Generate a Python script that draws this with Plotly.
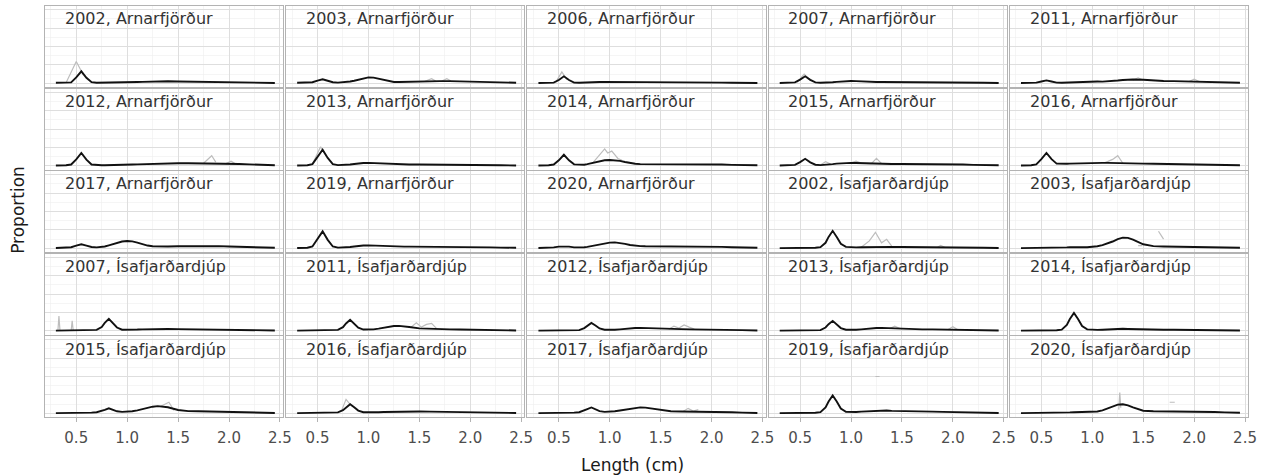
import plotly.graph_objects as go

# ---------------- data ----------------
LENGTH = [0.30, 0.35, 0.40, 0.45, 0.50, 0.55, 0.60, 0.65, 0.70, 0.75, 0.78, 0.82, 0.86, 0.90,
          0.95, 1.00, 1.05, 1.10, 1.15, 1.20, 1.25, 1.30, 1.35, 1.40, 1.50, 1.60, 1.70, 1.80,
          1.90, 2.00, 2.10, 2.20, 2.30, 2.45]

X_TICKS = [0.5, 1.0, 1.5, 2.0, 2.5]
X_TICK_LABELS = ["0.5", "1.0", "1.5", "2.0", "2.5"]

PANEL_TITLES = [
    "2002, Arnarfjörður", "2003, Arnarfjörður", "2006, Arnarfjörður", "2007, Arnarfjörður", "2011, Arnarfjörður",
    "2012, Arnarfjörður", "2013, Arnarfjörður", "2014, Arnarfjörður", "2015, Arnarfjörður", "2016, Arnarfjörður",
    "2017, Arnarfjörður", "2019, Arnarfjörður", "2020, Arnarfjörður", "2002, Ísafjarðardjúp", "2003, Ísafjarðardjúp",
    "2007, Ísafjarðardjúp", "2011, Ísafjarðardjúp", "2012, Ísafjarðardjúp", "2013, Ísafjarðardjúp", "2014, Ísafjarðardjúp",
    "2015, Ísafjarðardjúp", "2016, Ísafjarðardjúp", "2017, Ísafjarðardjúp", "2019, Ísafjarðardjúp", "2020, Ísafjarðardjúp",
]

# fitted proportions (black lines), one list per panel, on LENGTH
fit_a2002 = [0.003,0.003,0.003,0.005,0.032,0.065,0.030,0.006,0.003,0.003,0.003,0.003,0.004,0.004,0.005,0.005,0.006,0.007,0.008,0.009,0.010,0.011,0.011,0.011,0.010,0.009,0.008,0.007,0.006,0.005,0.004,0.003,0.003,0.002]
fit_a2003 = [0.003,0.003,0.003,0.006,0.015,0.022,0.014,0.006,0.004,0.005,0.007,0.010,0.014,0.020,0.027,0.032,0.031,0.025,0.017,0.010,0.007,0.007,0.008,0.009,0.011,0.012,0.012,0.012,0.011,0.009,0.007,0.005,0.004,0.003]
fit_a2006 = [0.002,0.002,0.002,0.004,0.018,0.038,0.018,0.004,0.003,0.003,0.004,0.005,0.006,0.007,0.008,0.008,0.008,0.007,0.006,0.006,0.006,0.006,0.006,0.006,0.006,0.006,0.005,0.005,0.005,0.004,0.004,0.003,0.003,0.002]
fit_a2007 = [0.002,0.002,0.002,0.005,0.020,0.038,0.019,0.005,0.003,0.003,0.004,0.006,0.008,0.010,0.012,0.013,0.012,0.010,0.008,0.007,0.007,0.007,0.007,0.007,0.007,0.007,0.007,0.006,0.006,0.005,0.004,0.004,0.003,0.002]
fit_a2011 = [0.002,0.002,0.002,0.004,0.010,0.016,0.010,0.004,0.003,0.004,0.005,0.007,0.009,0.010,0.011,0.011,0.010,0.009,0.010,0.012,0.015,0.018,0.020,0.021,0.019,0.015,0.013,0.012,0.011,0.010,0.008,0.006,0.004,0.003]
fit_a2012 = [0.002,0.002,0.003,0.007,0.035,0.070,0.034,0.007,0.003,0.003,0.003,0.003,0.004,0.004,0.005,0.006,0.007,0.008,0.009,0.010,0.011,0.012,0.013,0.013,0.014,0.014,0.014,0.014,0.013,0.012,0.010,0.008,0.005,0.003]
fit_a2013 = [0.002,0.002,0.003,0.009,0.045,0.087,0.043,0.009,0.004,0.004,0.005,0.007,0.010,0.013,0.015,0.016,0.015,0.013,0.010,0.008,0.007,0.007,0.007,0.007,0.007,0.007,0.007,0.007,0.006,0.006,0.005,0.004,0.003,0.002]
fit_a2014 = [0.002,0.002,0.003,0.007,0.030,0.060,0.030,0.008,0.005,0.006,0.009,0.014,0.020,0.026,0.030,0.032,0.031,0.027,0.021,0.015,0.011,0.009,0.009,0.009,0.008,0.008,0.009,0.010,0.010,0.009,0.007,0.005,0.004,0.003]
fit_a2015 = [0.002,0.002,0.003,0.005,0.020,0.038,0.019,0.006,0.004,0.005,0.007,0.009,0.012,0.014,0.016,0.016,0.015,0.014,0.012,0.011,0.010,0.010,0.010,0.010,0.010,0.010,0.010,0.009,0.009,0.008,0.007,0.005,0.004,0.003]
fit_a2016 = [0.002,0.002,0.003,0.008,0.036,0.070,0.036,0.012,0.010,0.011,0.012,0.013,0.014,0.015,0.015,0.016,0.016,0.016,0.016,0.016,0.015,0.015,0.014,0.013,0.012,0.011,0.010,0.009,0.008,0.007,0.006,0.005,0.004,0.003]
fit_a2017 = [0.002,0.002,0.003,0.006,0.015,0.022,0.015,0.007,0.005,0.007,0.010,0.016,0.023,0.030,0.037,0.040,0.038,0.031,0.022,0.015,0.011,0.010,0.010,0.010,0.011,0.012,0.013,0.013,0.012,0.010,0.008,0.006,0.004,0.003]
fit_a2019 = [0.002,0.002,0.003,0.010,0.048,0.092,0.046,0.010,0.004,0.004,0.005,0.007,0.010,0.013,0.015,0.016,0.015,0.013,0.011,0.009,0.009,0.009,0.009,0.009,0.009,0.009,0.009,0.009,0.008,0.008,0.007,0.005,0.004,0.003]
fit_a2020 = [0.002,0.002,0.003,0.005,0.009,0.011,0.009,0.005,0.004,0.006,0.008,0.012,0.017,0.023,0.028,0.031,0.032,0.029,0.024,0.018,0.014,0.012,0.011,0.011,0.011,0.012,0.012,0.012,0.011,0.010,0.008,0.006,0.004,0.003]
fit_i2002 = [0.001,0.001,0.001,0.001,0.001,0.002,0.002,0.003,0.006,0.030,0.062,0.095,0.062,0.025,0.008,0.005,0.005,0.006,0.007,0.008,0.008,0.008,0.008,0.008,0.007,0.007,0.006,0.006,0.005,0.005,0.004,0.004,0.003,0.002]
fit_i2003 = [0.001,0.001,0.001,0.002,0.002,0.002,0.003,0.003,0.004,0.005,0.006,0.007,0.006,0.006,0.006,0.008,0.011,0.017,0.026,0.037,0.050,0.058,0.057,0.047,0.022,0.012,0.010,0.009,0.009,0.008,0.007,0.006,0.005,0.003]
fit_i2007 = [0.001,0.001,0.001,0.001,0.002,0.002,0.002,0.003,0.005,0.021,0.043,0.065,0.043,0.018,0.006,0.005,0.006,0.007,0.008,0.009,0.010,0.011,0.011,0.010,0.009,0.008,0.007,0.007,0.006,0.005,0.005,0.004,0.003,0.002]
fit_i2011 = [0.001,0.001,0.001,0.001,0.002,0.002,0.002,0.003,0.005,0.020,0.040,0.060,0.040,0.017,0.007,0.006,0.008,0.012,0.017,0.022,0.026,0.027,0.025,0.021,0.013,0.010,0.009,0.008,0.007,0.006,0.005,0.004,0.003,0.002]
fit_i2012 = [0.001,0.001,0.001,0.001,0.002,0.002,0.002,0.003,0.004,0.015,0.029,0.043,0.029,0.013,0.006,0.005,0.006,0.008,0.011,0.013,0.015,0.016,0.015,0.013,0.010,0.009,0.009,0.008,0.008,0.007,0.006,0.005,0.004,0.002]
fit_i2013 = [0.001,0.001,0.001,0.001,0.002,0.002,0.002,0.003,0.004,0.018,0.036,0.054,0.036,0.015,0.006,0.005,0.006,0.008,0.011,0.013,0.015,0.016,0.015,0.013,0.010,0.009,0.008,0.008,0.007,0.007,0.006,0.005,0.004,0.002]
fit_i2014 = [0.001,0.001,0.001,0.001,0.002,0.002,0.002,0.003,0.006,0.032,0.064,0.097,0.064,0.026,0.008,0.005,0.005,0.006,0.008,0.009,0.010,0.011,0.010,0.009,0.008,0.007,0.006,0.006,0.005,0.005,0.004,0.003,0.003,0.002]
fit_i2015 = [0.001,0.001,0.002,0.002,0.003,0.003,0.003,0.004,0.006,0.012,0.019,0.027,0.019,0.011,0.008,0.008,0.011,0.016,0.023,0.030,0.036,0.039,0.038,0.033,0.018,0.012,0.011,0.010,0.010,0.009,0.008,0.006,0.004,0.002]
fit_i2016 = [0.001,0.001,0.001,0.001,0.002,0.002,0.002,0.003,0.005,0.017,0.033,0.049,0.033,0.015,0.006,0.005,0.005,0.006,0.007,0.008,0.009,0.009,0.010,0.010,0.010,0.009,0.008,0.007,0.007,0.006,0.005,0.004,0.003,0.002]
fit_i2017 = [0.001,0.001,0.001,0.002,0.002,0.003,0.003,0.004,0.006,0.014,0.023,0.032,0.023,0.012,0.008,0.008,0.011,0.015,0.020,0.025,0.030,0.032,0.031,0.027,0.016,0.011,0.010,0.010,0.009,0.009,0.008,0.006,0.004,0.002]
fit_i2019 = [0.001,0.001,0.001,0.001,0.002,0.002,0.002,0.003,0.006,0.032,0.064,0.097,0.064,0.026,0.008,0.006,0.007,0.009,0.011,0.013,0.015,0.016,0.015,0.013,0.011,0.010,0.009,0.009,0.008,0.007,0.006,0.005,0.004,0.002]
fit_i2020 = [0.001,0.001,0.001,0.002,0.002,0.002,0.003,0.003,0.004,0.004,0.005,0.006,0.006,0.006,0.006,0.007,0.010,0.016,0.026,0.038,0.047,0.049,0.043,0.032,0.014,0.011,0.011,0.011,0.011,0.010,0.009,0.007,0.005,0.003]

# observed proportions (grey lines) where they stand out from the fit
obs_x_a2002 = [0.40, 0.50, 0.57]
obs_y_a2002 = [0.003, 0.119, 0.045]
obs_x_a2003 = [1.55, 1.62, 1.66, None, 1.72, 1.77, 1.81]
obs_y_a2003 = [0.010, 0.025, 0.012, None, 0.012, 0.025, 0.013]
obs_x_a2006 = [0.47, 0.53, 0.58]
obs_y_a2006 = [0.005, 0.062, 0.020]
obs_x_a2007 = [0.47, 0.54, 0.60]
obs_y_a2007 = [0.005, 0.050, 0.018]
obs_x_a2011 = [1.40, 1.45, 1.50, None, 1.95, 2.00, 2.05]
obs_y_a2011 = [0.018, 0.030, 0.018, None, 0.010, 0.022, 0.010]
obs_x_a2012 = [1.75, 1.83, 1.87, None, 1.97, 2.02, 2.06]
obs_y_a2012 = [0.014, 0.055, 0.020, None, 0.012, 0.025, 0.012]
obs_x_a2013 = [0.45, 0.53, 0.59]
obs_y_a2013 = [0.010, 0.103, 0.050]
obs_x_a2014 = [0.84, 0.90, 0.95, 0.98, 1.02, 1.08, 1.12]
obs_y_a2014 = [0.020, 0.060, 0.092, 0.070, 0.080, 0.040, 0.030]
obs_x_a2015 = [0.70, 0.75, 0.80, None, 1.00, 1.05, 1.10, 1.20, 1.25, 1.30]
obs_y_a2015 = [0.005, 0.022, 0.010, None, 0.016, 0.025, 0.015, 0.012, 0.040, 0.012]
obs_x_a2016 = [1.12, 1.20, 1.25, 1.30]
obs_y_a2016 = [0.016, 0.035, 0.055, 0.014]
obs_x_a2017 = []
obs_y_a2017 = []
obs_x_a2019 = []
obs_y_a2019 = []
obs_x_a2020 = []
obs_y_a2020 = []
obs_x_i2002 = [1.10, 1.18, 1.24, 1.30, 1.35, 1.40, None, 1.85, 1.88, 1.92]
obs_y_i2002 = [0.006, 0.040, 0.087, 0.030, 0.049, 0.012, None, 0.006, 0.016, 0.006]
obs_x_i2003 = [1.45, 1.49, None, 1.65, 1.70]
obs_y_i2003 = [0.015, 0.015, None, 0.093, 0.050]
obs_x_i2007 = [0.32, 0.33, 0.34, None, 0.45, 0.46, 0.47]
obs_y_i2007 = [0.002, 0.080, 0.002, None, 0.002, 0.055, 0.002]
obs_x_i2011 = [1.42, 1.47, 1.52, 1.57, 1.62, 1.67]
obs_y_i2011 = [0.020, 0.043, 0.020, 0.035, 0.040, 0.012]
obs_x_i2012 = [1.58, 1.63, 1.68, 1.73, 1.78, 1.83]
obs_y_i2012 = [0.009, 0.025, 0.015, 0.032, 0.020, 0.009]
obs_x_i2013 = [1.38, 1.43, 1.48, None, 1.95, 2.00, 2.05]
obs_y_i2013 = [0.012, 0.025, 0.012, None, 0.006, 0.022, 0.006]
obs_x_i2014 = []
obs_y_i2014 = []
obs_x_i2015 = [1.33, 1.41, 1.46]
obs_y_i2015 = [0.038, 0.060, 0.015]
obs_x_i2016 = [0.74, 0.78, 0.82]
obs_y_i2016 = [0.020, 0.076, 0.049]
obs_x_i2017 = [1.72, 1.77, 1.82, 1.87]
obs_y_i2017 = [0.010, 0.027, 0.012, 0.020]
obs_x_i2019 = [1.24, 1.28]
obs_y_i2019 = [0.200, 0.200]
obs_x_i2020 = [1.26, 1.27, 1.28, None, 1.76, 1.81]
obs_y_i2020 = [0.020, 0.113, 0.030, None, 0.060, 0.060]

FITS = [fit_a2002, fit_a2003, fit_a2006, fit_a2007, fit_a2011, fit_a2012, fit_a2013, fit_a2014,
        fit_a2015, fit_a2016, fit_a2017, fit_a2019, fit_a2020, fit_i2002, fit_i2003, fit_i2007,
        fit_i2011, fit_i2012, fit_i2013, fit_i2014, fit_i2015, fit_i2016, fit_i2017, fit_i2019, fit_i2020]
OBS_X = [obs_x_a2002, obs_x_a2003, obs_x_a2006, obs_x_a2007, obs_x_a2011, obs_x_a2012, obs_x_a2013,
         obs_x_a2014, obs_x_a2015, obs_x_a2016, obs_x_a2017, obs_x_a2019, obs_x_a2020, obs_x_i2002,
         obs_x_i2003, obs_x_i2007, obs_x_i2011, obs_x_i2012, obs_x_i2013, obs_x_i2014, obs_x_i2015,
         obs_x_i2016, obs_x_i2017, obs_x_i2019, obs_x_i2020]
OBS_Y = [obs_y_a2002, obs_y_a2003, obs_y_a2006, obs_y_a2007, obs_y_a2011, obs_y_a2012, obs_y_a2013,
         obs_y_a2014, obs_y_a2015, obs_y_a2016, obs_y_a2017, obs_y_a2019, obs_y_a2020, obs_y_i2002,
         obs_y_i2003, obs_y_i2007, obs_y_i2011, obs_y_i2012, obs_y_i2013, obs_y_i2014, obs_y_i2015,
         obs_y_i2016, obs_y_i2017, obs_y_i2019, obs_y_i2020]

# ---------------- layout geometry (pixels) ----------------
W, H = 1270, 476
NCOL, NROW = 5, 5
PANEL_LEFT0, PANEL_PITCH_X, PANEL_W = 45, 243, 240
PANEL_TOP0, PANEL_PITCH_Y, PANEL_H = 6, 82.5, 81
FONT = "DejaVu Sans"

fig = go.Figure()
layout = {}
annotations = []

for k in range(len(FITS)):
    r, c = divmod(k, NCOL)
    n = k + 1
    xa = "x" if n == 1 else f"x{n}"
    ya = "y" if n == 1 else f"y{n}"
    left = PANEL_LEFT0 + PANEL_PITCH_X * c
    top = PANEL_TOP0 + PANEL_PITCH_Y * r
    bottom_row = (r == NROW - 1)

    fig.add_trace(go.Scatter(x=OBS_X[k], y=OBS_Y[k], mode="lines", xaxis=xa, yaxis=ya,
                             line=dict(color="#bdbdbd", width=1.2), connectgaps=False,
                             showlegend=False, hoverinfo="skip"))
    fig.add_trace(go.Scatter(x=LENGTH, y=FITS[k], mode="lines", xaxis=xa, yaxis=ya,
                             line=dict(color="#111111", width=1.9),
                             showlegend=False))

    layout[f"xaxis{n}"] = dict(
        domain=[left / W, (left + PANEL_W) / W], anchor=ya, range=[0.19, 2.53],
        tickvals=X_TICKS, ticktext=X_TICK_LABELS, showticklabels=bottom_row,
        ticks="outside" if bottom_row else "", ticklen=4, tickcolor="#b3b3b3",
        ticklabelstandoff=3,
        tickfont=dict(family=FONT, size=15, color="#4d4d4d"),
        showgrid=True, gridcolor="#dedede", gridwidth=1,
        minor=dict(tickvals=[0.25, 0.75, 1.25, 1.75, 2.25], showgrid=True,
                   gridcolor="#efefef", gridwidth=0.6),
        showline=True, mirror=True, linecolor="#b3b3b3", linewidth=1,
        zeroline=False, fixedrange=True,
    )
    layout[f"yaxis{n}"] = dict(
        domain=[1 - (top + PANEL_H) / H, 1 - top / H], anchor=xa, range=[-0.02, 0.42],
        tickvals=[0, 0.1, 0.2, 0.3, 0.4], showticklabels=False, ticks="",
        showgrid=True, gridcolor="#dedede", gridwidth=1,
        minor=dict(tickvals=[0.05, 0.15, 0.25, 0.35], showgrid=True,
                   gridcolor="#efefef", gridwidth=0.6),
        showline=True, mirror=True, linecolor="#b3b3b3", linewidth=1,
        zeroline=False, fixedrange=True,
    )
    annotations.append(dict(
        text=PANEL_TITLES[k], xref="paper", yref="paper",
        x=(left + 18) / W, y=1 - (top + 13) / H, xanchor="left", yanchor="middle",
        showarrow=False, font=dict(family=FONT, size=16, color="#333333"),
    ))

annotations.append(dict(text="Length (cm)", xref="paper", yref="paper",
                        x=637 / W, y=1 - 465 / H, xanchor="center", yanchor="middle",
                        showarrow=False, font=dict(family=FONT, size=17, color="#1a1a1a")))
annotations.append(dict(text="Proportion", xref="paper", yref="paper",
                        x=18 / W, y=1 - 210 / H, xanchor="center", yanchor="middle", textangle=-90,
                        showarrow=False, font=dict(family=FONT, size=17, color="#1a1a1a")))

fig.update_layout(
    width=W, height=H, autosize=False,
    margin=dict(l=0, r=0, t=0, b=0),
    paper_bgcolor="white", plot_bgcolor="white",
    annotations=annotations, showlegend=False,
    **layout,
)

fig.write_html("out.html", include_plotlyjs=True, full_html=True,
               config={"displayModeBar": False, "staticPlot": True})
